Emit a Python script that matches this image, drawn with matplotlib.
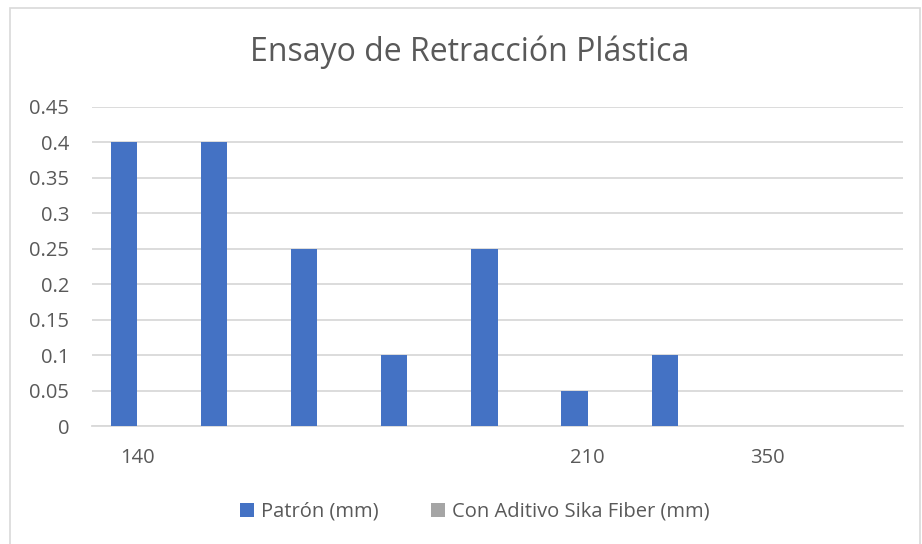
import matplotlib.pyplot as plt
import numpy as np
from matplotlib.patches import Rectangle

categorias = ['140', '', '', '', '', '210', '', '350', '']
patron = [0.4, 0.4, 0.25, 0.1, 0.25, 0.05, 0.1, 0, 0]
sika_fiber = [0, 0, 0, 0, 0, 0, 0, 0, 0]

plt.rcParams['font.family'] = ['Open Sans', 'DejaVu Sans']
gris_texto = '#595959'

fig = plt.figure(figsize=(9.22, 5.44), dpi=100)
ax = fig.add_axes([92 / 922, 1 - 426 / 544, (903 - 92) / 922, (426 - 107) / 544])

x = np.arange(len(categorias))
ancho = 0.29
ax.bar(x - ancho / 2, patron, ancho, color='#4472C4', label='Patrón (mm)', zorder=3)
ax.bar(x + ancho / 2, sika_fiber, ancho, color='#A5A5A5', label='Con Aditivo Sika Fiber (mm)', zorder=3)

ax.set_xlim(-0.5, len(categorias) - 0.5)
ax.set_ylim(0, 0.45)
ax.set_yticks(np.arange(0, 0.451, 0.05))
ax.set_yticklabels(['0', '0.05', '0.1', '0.15', '0.2', '0.25', '0.3', '0.35', '0.4', '0.45'])
ax.set_xticks(x)
ax.set_xticklabels(categorias)
ax.tick_params(axis='both', length=0, labelsize=14.5, colors=gris_texto)
ax.tick_params(axis='x', pad=16)
ax.tick_params(axis='y', pad=16.5)
ax.grid(axis='y', color='#D9D9D9', linewidth=1.3, zorder=0)
for lado in ['top', 'right', 'left']:
    ax.spines[lado].set_visible(False)
ax.spines['bottom'].set_color('#D9D9D9')
ax.spines['bottom'].set_linewidth(1.3)

fig.text(470 / 922, 1 - 52 / 544, 'Ensayo de Retracción Plástica', ha='center', va='center',
         fontsize=23, color=gris_texto)

fig.legend(loc='center', bbox_to_anchor=(475 / 922, 1 - 512 / 544), ncol=2, frameon=False,
           fontsize=14.5, labelcolor=gris_texto, handlelength=0.7, handleheight=0.7,
           handletextpad=0.35, columnspacing=2.6)

fig.patches.append(Rectangle((10 / 922, -0.01), 910 / 922, 1 - 8 / 544 + 0.01, transform=fig.transFigure,
                             fill=False, edgecolor='#D9D9D9', linewidth=1.2))

fig.savefig('out.png', dpi=100)
